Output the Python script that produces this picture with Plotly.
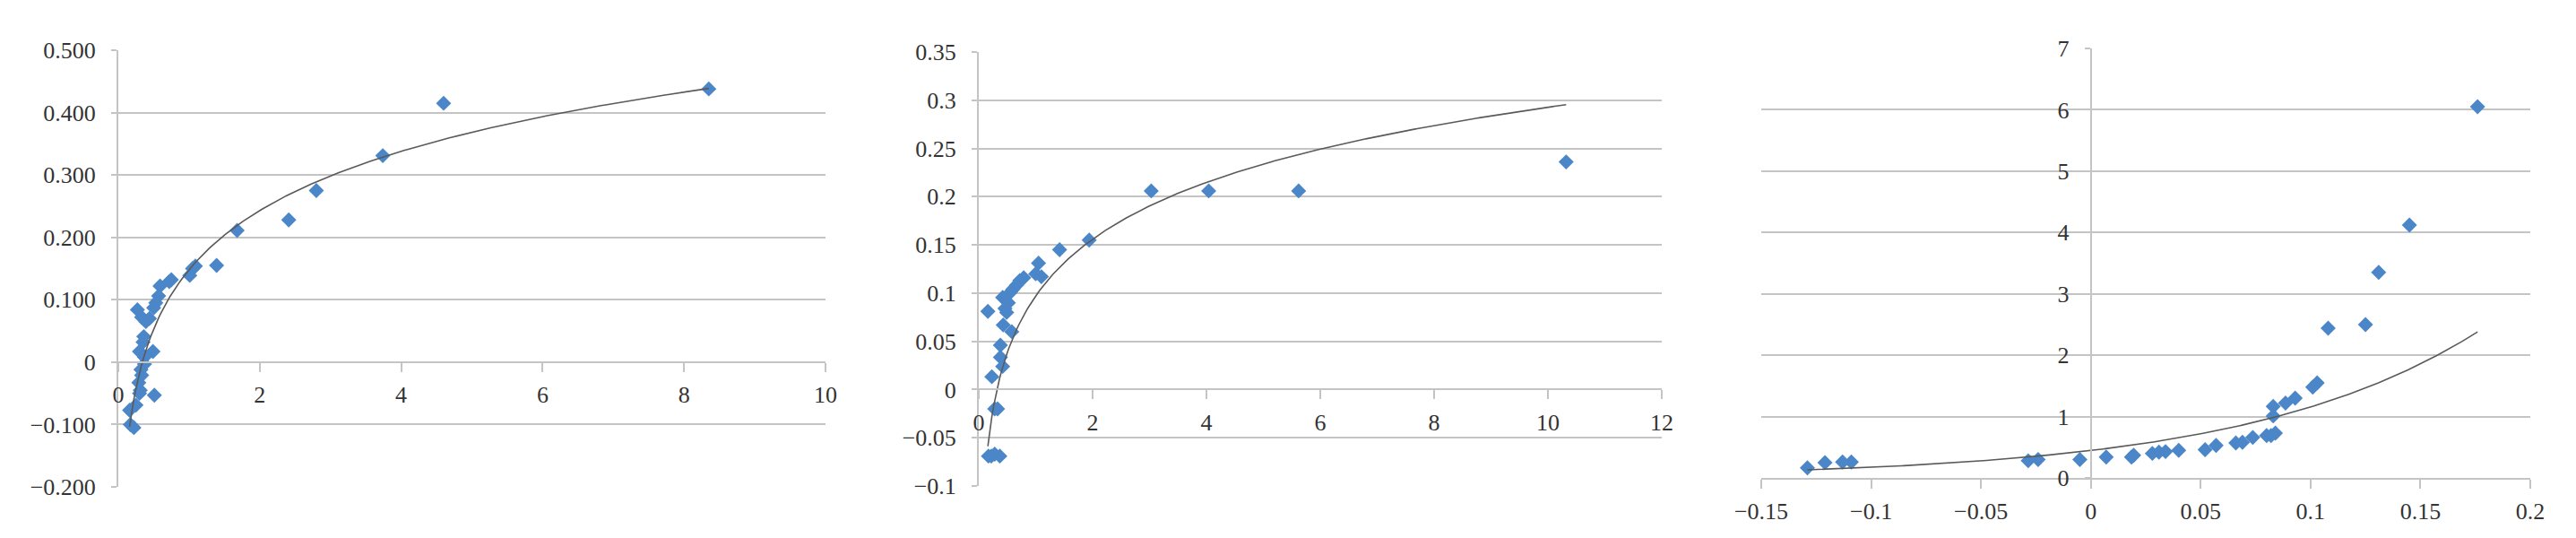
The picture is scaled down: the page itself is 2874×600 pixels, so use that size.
import numpy as np
import plotly.graph_objects as go

# ---------------- data ----------------
x1 = [8.35, 4.60, 3.74, 2.80, 2.41, 1.68, 1.39, 1.09, 1.05, 1.01, 0.75, 0.72, 0.59, 0.57,
      0.53, 0.50, 0.27, 0.33, 0.39, 0.44, 0.36, 0.35, 0.30, 0.49, 0.37, 0.37, 0.32, 0.33,
      0.29, 0.31, 0.30, 0.51, 0.25, 0.16, 0.17, 0.22]
y1 = [0.438, 0.415, 0.331, 0.275, 0.228, 0.211, 0.155, 0.154, 0.150, 0.139, 0.132, 0.129,
      0.122, 0.106, 0.095, 0.087, 0.084, 0.072, 0.065, 0.070, 0.041, 0.032, 0.017, 0.017,
      0.008, -0.003, -0.012, -0.021, -0.033, -0.045, -0.050, -0.053, -0.069, -0.077,
      -0.100, -0.105]

x2 = [10.32, 5.62, 4.04, 3.03, 1.94, 1.42, 1.05, 1.00, 1.10, 0.79, 0.72, 0.66, 0.60, 0.56,
      0.42, 0.52, 0.46, 0.49, 0.16, 0.43, 0.58, 0.38, 0.38, 0.42, 0.23, 0.28, 0.33, 0.17,
      0.22, 0.28, 0.37]
y2 = [0.236, 0.206, 0.206, 0.206, 0.155, 0.145, 0.131, 0.120, 0.117, 0.116, 0.113, 0.108,
      0.104, 0.101, 0.0955, 0.090, 0.084, 0.080, 0.081, 0.067, 0.060, 0.046, 0.0335, 0.024,
      0.0133, -0.020, -0.020, -0.069, -0.069, -0.067, -0.069]

x3 = [0.176, 0.145, 0.131, 0.125, 0.108, 0.103, 0.101, 0.093, 0.0886, 0.083, 0.083, 0.084,
      0.082, 0.080, 0.0737, 0.069, 0.066, 0.057, 0.052, 0.040, 0.034, 0.031, 0.028, 0.0195,
      0.0185, 0.007, -0.005, -0.024, -0.0285, -0.109, -0.113, -0.121, -0.129]
y3 = [6.05, 4.12, 3.35, 2.50, 2.44, 1.55, 1.48, 1.30, 1.22, 1.165, 1.01, 0.73, 0.69, 0.69,
      0.66, 0.58, 0.57, 0.53, 0.46, 0.45, 0.43, 0.42, 0.40, 0.37, 0.34, 0.34, 0.30, 0.30,
      0.28, 0.26, 0.26, 0.25, 0.165]

# trend line coefficients as read from the reference
# charts 1 and 2: y = a*ln(x) + b ; chart 3: y = A*exp(B*x)
trend1_a, trend1_b = 0.137, 0.148
trend2_a, trend2_b = 0.085, 0.097
trend3_A, trend3_B = 0.447, 9.5

# tick labels
y1_ticks = [-0.2, -0.1, 0, 0.1, 0.2, 0.3, 0.4, 0.5]
y1_text = ["\u22120.200", "\u22120.100", "0", "0.100", "0.200", "0.300", "0.400", "0.500"]
x1_ticks = [0, 2, 4, 6, 8, 10]
x1_text = ["0", "2", "4", "6", "8", "10"]

y2_ticks = [-0.1, -0.05, 0, 0.05, 0.1, 0.15, 0.2, 0.25, 0.3, 0.35]
y2_text = ["\u22120.1", "\u22120.05", "0", "0.05", "0.1", "0.15", "0.2", "0.25", "0.3", "0.35"]
x2_ticks = [0, 2, 4, 6, 8, 10, 12]
x2_text = ["0", "2", "4", "6", "8", "10", "12"]

y3_ticks = [0, 1, 2, 3, 4, 5, 6, 7]
y3_text = ["0", "1", "2", "3", "4", "5", "6", "7"]
x3_ticks = [-0.15, -0.1, -0.05, 0, 0.05, 0.1, 0.15, 0.2]
x3_text = ["\u22120.15", "\u22120.1", "\u22120.05", "0", "0.05", "0.1", "0.15", "0.2"]

# ---------------- trend lines over the data span ----------------
t1x = np.linspace(min(x1), max(x1), 300)
t1y = trend1_a * np.log(t1x) + trend1_b
t2x = np.linspace(min(x2), max(x2), 300)
t2y = trend2_a * np.log(t2x) + trend2_b
t3x = np.linspace(min(x3), max(x3), 300)
t3y = trend3_A * np.exp(trend3_B * t3x)

# ---------------- styling ----------------
W, H = 2874, 600
MARK = dict(symbol="diamond", size=13, color="#4A86C8", line=dict(width=0))
TREND = dict(color="#5a5a5a", width=1.6)
GRID = "#c4c4c4"
FONT = dict(family="Liberation Serif", size=26, color="#333333")

def px_x(a, b):
    return [a / W, b / W]

def px_y(top, bottom):
    return [1 - bottom / H, 1 - top / H]

fig = go.Figure()
fig.add_trace(go.Scatter(x=x1, y=y1, mode="markers", marker=MARK, xaxis="x", yaxis="y", showlegend=False))
fig.add_trace(go.Scatter(x=t1x, y=t1y, mode="lines", line=TREND, xaxis="x", yaxis="y", showlegend=False))
fig.add_trace(go.Scatter(x=x2, y=y2, mode="markers", marker=MARK, xaxis="x2", yaxis="y2", showlegend=False))
fig.add_trace(go.Scatter(x=t2x, y=t2y, mode="lines", line=TREND, xaxis="x2", yaxis="y2", showlegend=False))
fig.add_trace(go.Scatter(x=x3, y=y3, mode="markers", marker=MARK, xaxis="x3", yaxis="y3", showlegend=False))
fig.add_trace(go.Scatter(x=t3x, y=t3y, mode="lines", line=TREND, xaxis="x3", yaxis="y3", showlegend=False))

common_x = dict(showgrid=False, zeroline=False, showline=True, linecolor=GRID, linewidth=2,
                ticks="outside", ticklen=10, tickwidth=2, tickcolor=GRID, tickfont=FONT,
                tickmode="array", ticklabelstandoff=3, automargin=False)
common_y = dict(showgrid=True, gridcolor=GRID, gridwidth=2, zeroline=False, showline=True,
                linecolor=GRID, linewidth=2, ticks="outside", ticklen=6, tickwidth=2,
                tickcolor=GRID, tickfont=FONT, tickmode="array", ticklabelstandoff=12,
                automargin=False)

d1x, d1y = px_x(132, 921), px_y(56, 543)
d2x, d2y = px_x(1092, 1854), px_y(58, 542)
d3x, d3y = px_x(1965, 2823), px_y(54, 533)

# positions where the axes cross
pos_x1 = d1y[0] + (0 - (-0.2)) / 0.7 * (d1y[1] - d1y[0])
pos_x2 = d2y[0] + (0 - (-0.1)) / 0.45 * (d2y[1] - d2y[0])
pos_y3 = d3x[0] + (0 - (-0.15)) / 0.35 * (d3x[1] - d3x[0])

fig.update_layout(
    width=W, height=H, margin=dict(l=0, r=0, t=0, b=0, autoexpand=False),
    paper_bgcolor="white", plot_bgcolor="white",
    xaxis=dict(**common_x, domain=d1x, range=[0, 10], anchor="free", position=pos_x1,
               tickvals=x1_ticks, ticktext=x1_text),
    yaxis=dict(**common_y, domain=d1y, range=[-0.2, 0.5], anchor="x",
               tickvals=y1_ticks, ticktext=y1_text),
    xaxis2=dict(**common_x, domain=d2x, range=[0, 12], anchor="free", position=pos_x2,
                tickvals=x2_ticks, ticktext=x2_text),
    yaxis2=dict(**common_y, domain=d2y, range=[-0.1, 0.35], anchor="x2",
                tickvals=y2_ticks, ticktext=y2_text),
    xaxis3=dict(**common_x, domain=d3x, range=[-0.15, 0.2], anchor="y3",
                tickvals=x3_ticks, ticktext=x3_text),
    yaxis3=dict(**common_y, domain=d3y, range=[0, 7], anchor="free", position=pos_y3,
                tickvals=y3_ticks, ticktext=y3_text),
)

fig.write_html("out.html", config={"displayModeBar": False},
               post_script="document.body.style.margin='0';document.body.style.overflow='hidden';")
